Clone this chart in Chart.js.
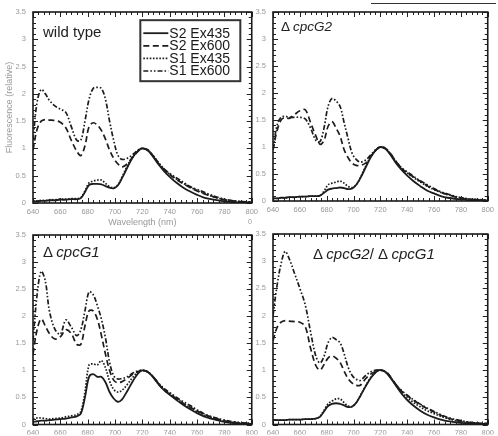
<!DOCTYPE html>
<html>
<head>
<meta charset="utf-8">
<script src="https://cdn.jsdelivr.net/npm/chart.js@4.4.0/dist/chart.umd.min.js"></script>
<style>
  html, body { margin:0; padding:0; background:#fff; }
  body { width:498px; height:436px; position:relative; overflow:hidden; font-family:"Liberation Sans", Arial, sans-serif; }
  canvas { position:absolute; }
  .lab { position:absolute; color:#222; white-space:nowrap; line-height:1; }
  .lab i { font-style:italic; }
</style>
</head>
<body>
<canvas id="c1" width="262" height="232" style="left:0;top:0"></canvas>
<canvas id="c2" width="250" height="232" style="left:248px;top:0"></canvas>
<canvas id="c3" width="262" height="214" style="left:0;top:222px"></canvas>
<canvas id="c4" width="250" height="214" style="left:248px;top:222px"></canvas>
<div class="lab" style="left:43px;top:24px;font-size:15px">wild type</div>
<div class="lab" style="left:281px;top:20px;font-size:13.5px">Δ <i>cpcG2</i></div>
<div class="lab" style="left:43px;top:244px;font-size:15px">Δ <i>cpcG1</i></div>
<div class="lab" style="left:313px;top:246px;font-size:15px">Δ <i>cpcG2</i>/ Δ <i>cpcG1</i></div>
<div class="lab" style="left:248px;top:218px;font-size:7px;color:#999">0</div>
<div style="position:absolute;left:371px;top:3px;width:125px;height:0;border-top:1.5px solid #333"></div>
<script>
// ---------- data ----------
const WL = [640,643,646,649,652,656,660,664,668,672,675,678,681,684,687,690,693,696,699,702,705,709,713,717,720,724,728,732,736,740,745,750,755,760,765,770,780,790,800];
const xTicks = [640,660,680,700,720,740,760,780,800];
const yTicks = [0,0.5,1,1.5,2,2.5,3,3.5];
const seriesLabels = ['S2 Ex435','S2 Ex600','S1 Ex435','S1 Ex600'];

// wild type
const wt_S2Ex435 = [0.03,0.03,0.04,0.04,0.05,0.05,0.06,0.06,0.07,0.07,0.09,0.2,0.33,0.35,0.35,0.34,0.31,0.28,0.27,0.32,0.45,0.65,0.84,0.96,1.0,0.96,0.84,0.7,0.58,0.48,0.37,0.28,0.21,0.15,0.1,0.07,0.03,0.01,0.01];
const wt_S2Ex600 = [0.97,1.35,1.5,1.53,1.52,1.51,1.48,1.38,1.15,0.95,0.87,1.05,1.4,1.47,1.43,1.33,1.17,0.97,0.82,0.72,0.66,0.72,0.84,0.95,1.0,0.97,0.86,0.72,0.61,0.52,0.43,0.35,0.28,0.22,0.17,0.13,0.06,0.03,0.01];
const wt_S1Ex435 = [0.04,0.04,0.05,0.05,0.06,0.06,0.07,0.07,0.08,0.08,0.1,0.22,0.37,0.4,0.42,0.42,0.36,0.3,0.28,0.33,0.47,0.68,0.86,0.97,1.0,0.97,0.86,0.73,0.62,0.53,0.44,0.36,0.29,0.23,0.18,0.13,0.06,0.03,0.01];
const wt_S1Ex600 = [1.15,1.85,2.08,2.0,1.88,1.78,1.72,1.66,1.4,1.15,1.15,1.5,1.9,2.1,2.12,2.1,1.9,1.5,1.15,0.88,0.8,0.82,0.89,0.97,1.0,0.97,0.86,0.73,0.62,0.54,0.46,0.38,0.3,0.25,0.2,0.15,0.07,0.03,0.02];
// delta cpcG2
const g2_S2Ex435 = [0.05,0.05,0.06,0.06,0.07,0.07,0.08,0.08,0.09,0.09,0.1,0.15,0.21,0.23,0.24,0.25,0.24,0.22,0.23,0.3,0.42,0.62,0.82,0.95,1.0,0.96,0.84,0.69,0.57,0.47,0.36,0.27,0.19,0.14,0.09,0.06,0.03,0.01,0.01];
const g2_S2Ex600 = [0.95,1.3,1.5,1.55,1.53,1.6,1.67,1.69,1.45,1.2,1.05,1.12,1.38,1.47,1.35,1.2,0.95,0.8,0.7,0.66,0.66,0.7,0.83,0.95,1.0,0.97,0.86,0.72,0.6,0.52,0.44,0.36,0.28,0.22,0.16,0.12,0.05,0.02,0.01];
const g2_S1Ex435 = [0.05,0.05,0.06,0.06,0.07,0.07,0.08,0.08,0.09,0.09,0.1,0.18,0.3,0.33,0.35,0.37,0.33,0.27,0.25,0.3,0.43,0.64,0.83,0.95,1.0,0.97,0.85,0.71,0.6,0.52,0.43,0.35,0.27,0.21,0.16,0.12,0.06,0.03,0.01];
const g2_S1Ex600 = [0.95,1.4,1.55,1.57,1.55,1.55,1.55,1.52,1.35,1.12,1.1,1.35,1.75,1.9,1.85,1.75,1.45,1.15,0.88,0.77,0.72,0.76,0.86,0.96,1.0,0.97,0.86,0.72,0.61,0.54,0.45,0.37,0.3,0.23,0.17,0.13,0.06,0.03,0.02];
// delta cpcG1
const g1_S2Ex435 = [0.05,0.06,0.07,0.07,0.08,0.09,0.1,0.11,0.13,0.15,0.2,0.5,0.88,0.93,0.88,0.88,0.78,0.6,0.48,0.42,0.46,0.62,0.8,0.95,1.0,0.97,0.87,0.74,0.63,0.55,0.45,0.36,0.28,0.21,0.15,0.11,0.05,0.02,0.01];
const g1_S2Ex600 = [1.3,1.75,1.95,1.82,1.68,1.58,1.62,1.75,1.68,1.48,1.48,1.82,2.1,2.1,1.95,1.65,1.3,1.0,0.82,0.77,0.79,0.85,0.93,0.98,1.0,0.97,0.87,0.74,0.63,0.56,0.47,0.39,0.32,0.25,0.19,0.14,0.07,0.03,0.02];
const g1_S1Ex435 = [0.1,0.12,0.12,0.11,0.1,0.11,0.12,0.14,0.16,0.18,0.24,0.6,1.1,1.12,1.1,1.18,1.05,0.8,0.65,0.6,0.63,0.74,0.87,0.97,1.0,0.97,0.88,0.75,0.65,0.57,0.48,0.39,0.31,0.24,0.18,0.13,0.06,0.03,0.01];
const g1_S1Ex600 = [1.55,2.4,2.83,2.65,2.1,1.76,1.67,1.93,1.8,1.64,1.75,2.1,2.45,2.4,2.2,1.95,1.6,1.15,0.9,0.84,0.85,0.88,0.95,0.99,1.0,0.97,0.88,0.76,0.66,0.59,0.5,0.42,0.35,0.27,0.2,0.15,0.08,0.04,0.02];
// delta cpcG2 / delta cpcG1
const g21_S2Ex435 = [0.08,0.08,0.08,0.08,0.09,0.09,0.09,0.1,0.1,0.11,0.14,0.24,0.34,0.38,0.39,0.38,0.35,0.32,0.33,0.4,0.52,0.7,0.86,0.97,1.0,0.96,0.84,0.7,0.56,0.45,0.34,0.25,0.18,0.13,0.09,0.06,0.03,0.01,0.01];
const g21_S2Ex600 = [1.54,1.78,1.88,1.91,1.9,1.89,1.88,1.8,1.4,1.08,1.0,1.1,1.22,1.26,1.22,1.14,0.98,0.84,0.76,0.72,0.72,0.84,0.93,0.98,1.0,0.97,0.86,0.72,0.61,0.53,0.44,0.36,0.29,0.23,0.17,0.12,0.06,0.03,0.01];
const g21_S1Ex435 = [0.08,0.08,0.08,0.08,0.09,0.09,0.09,0.1,0.1,0.11,0.15,0.26,0.38,0.43,0.47,0.47,0.4,0.34,0.33,0.4,0.53,0.71,0.87,0.97,1.0,0.96,0.85,0.71,0.59,0.5,0.4,0.32,0.25,0.2,0.15,0.11,0.05,0.02,0.01];
const g21_S1Ex600 = [2.0,2.55,2.95,3.18,3.05,2.78,2.5,2.2,1.7,1.25,1.13,1.25,1.5,1.6,1.56,1.5,1.3,1.05,0.9,0.83,0.81,0.9,0.97,1.0,1.0,0.97,0.86,0.72,0.62,0.54,0.45,0.37,0.3,0.24,0.18,0.13,0.07,0.03,0.02];

// ---------- styles ----------
const LINE = '#1c1c1c';
const dashes = [[], [6,3.5], [1.6,1.6], [5,2,1.6,2,1.6,2]];
const widths = [1.8, 1.7, 1.7, 1.7];

function buildDatasets(arrs) {
  return arrs.map((arr, i) => ({
    label: seriesLabels[i],
    data: WL.map((w, k) => ({ x: w, y: arr[k] })),
    borderColor: LINE,
    borderWidth: widths[i],
    borderDash: dashes[i],
    pointRadius: 0,
    tension: 0.35,
    fill: false
  }));
}

const framePlugin = {
  id: 'frame',
  afterDatasetsDraw(chart) {
    const { ctx, chartArea: { left, right, top, bottom }, scales: { x, y } } = chart;
    ctx.save();
    ctx.strokeStyle = '#222';
    ctx.lineWidth = 1;
    ctx.setLineDash([]);
    ctx.beginPath();
    for (let v = 640; v <= 800; v += 4) {
      const px = Math.round(x.getPixelForValue(v)) + 0.5;
      const L = ((v - 640) % 20 === 0) ? 5 : 3;
      ctx.moveTo(px, bottom); ctx.lineTo(px, bottom - L);
      ctx.moveTo(px, top); ctx.lineTo(px, top + L);
    }
    for (let k = 0; k <= 35; k++) {
      const py = Math.round(y.getPixelForValue(k / 10)) + 0.5;
      const L = (k % 5 === 0) ? 5 : 3;
      ctx.moveTo(left, py); ctx.lineTo(left + L, py);
      ctx.moveTo(right, py); ctx.lineTo(right - L, py);
    }
    ctx.stroke();
    ctx.lineWidth = 1.6;
    ctx.strokeStyle = '#1a1a1a';
    ctx.strokeRect(left, top, right - left, bottom - top);
    ctx.restore();
  }
};

const legendPlugin = {
  id: 'boxLegend',
  afterDraw(chart) {
    const ctx = chart.ctx;
    const x = chart.scales.x, y = chart.scales.y;
    const bx = x.getPixelForValue(718.5), by = y.getPixelForValue(3.35);
    const bw = 100, bh = 61;
    ctx.save();
    ctx.fillStyle = '#fff';
    ctx.fillRect(bx, by, bw, bh);
    ctx.strokeStyle = '#333';
    ctx.lineWidth = 2;
    ctx.strokeRect(bx, by, bw, bh);
    ctx.font = '14px "Liberation Sans", Arial, sans-serif';
    ctx.textBaseline = 'middle';
    ctx.fillStyle = '#1a1a1a';
    chart.data.datasets.forEach((ds, i) => {
      const ry = by + 13 + i * 12.6;
      ctx.strokeStyle = LINE;
      ctx.lineWidth = ds.borderWidth;
      ctx.setLineDash(ds.borderDash);
      ctx.beginPath();
      ctx.moveTo(bx + 3, ry); ctx.lineTo(bx + 28, ry);
      ctx.stroke();
      ctx.setLineDash([]);
      ctx.fillText(ds.label, bx + 29, ry + 0.5);
    });
    ctx.restore();
  }
};

function makeChart(id, arrs, o) {
  return new Chart(document.getElementById(id), {
    type: 'line',
    data: { datasets: buildDatasets(arrs) },
    plugins: o.legend ? [framePlugin, legendPlugin] : [framePlugin],
    options: {
      responsive: false,
      animation: false,
      devicePixelRatio: 1,
      layout: { autoPadding: false, padding: { top: o.top, right: o.right, left: 0, bottom: 0 } },
      plugins: { legend: { display: false }, tooltip: { enabled: false } },
      scales: {
        x: {
          type: 'linear', min: 640, max: 800,
          afterBuildTicks: s => { s.ticks = xTicks.map(v => ({ value: v })); },
          afterFit: s => { s.height = o.xh; },
          grid: { display: false, drawTicks: false },
          border: { display: false },
          ticks: { font: { size: 7.5, family: '"Liberation Sans", Arial' }, color: '#999', padding: 4, maxRotation: 0, autoSkip: false, callback: v => String(v) },
          title: { display: !!o.titles, text: 'Wavelength (nm)', color: '#999', font: { size: 9, family: '"Liberation Sans", Arial' }, padding: { top: 2, bottom: 4 } }
        },
        y: {
          type: 'linear', min: 0, max: 3.5,
          afterBuildTicks: s => { s.ticks = yTicks.map(v => ({ value: v })); },
          afterFit: s => { s.width = o.yw; },
          grid: { display: false, drawTicks: false },
          border: { display: false },
          ticks: { font: { size: 7.5, family: '"Liberation Sans", Arial' }, color: '#999', padding: 7, callback: v => String(v) },
          title: { display: !!o.titles, text: 'Fluorescence (relative)', color: '#999', font: { size: 9, family: '"Liberation Sans", Arial' }, padding: { top: 4, bottom: 2 } }
        }
      }
    }
  });
}

makeChart('c1', [wt_S2Ex435, wt_S2Ex600, wt_S1Ex435, wt_S1Ex600], { yw: 33, xh: 29, top: 12, right: 8, titles: true, legend: true });
makeChart('c2', [g2_S2Ex435, g2_S2Ex600, g2_S1Ex435, g2_S1Ex600], { yw: 25, xh: 31, top: 12, right: 2 });
makeChart('c3', [g1_S2Ex435, g1_S2Ex600, g1_S1Ex435, g1_S1Ex600], { yw: 33, xh: 10, top: 13, right: 8 });
makeChart('c4', [g21_S2Ex435, g21_S2Ex600, g21_S1Ex435, g21_S1Ex600], { yw: 25, xh: 10, top: 12, right: 2 });
</script>
</body>
</html>
